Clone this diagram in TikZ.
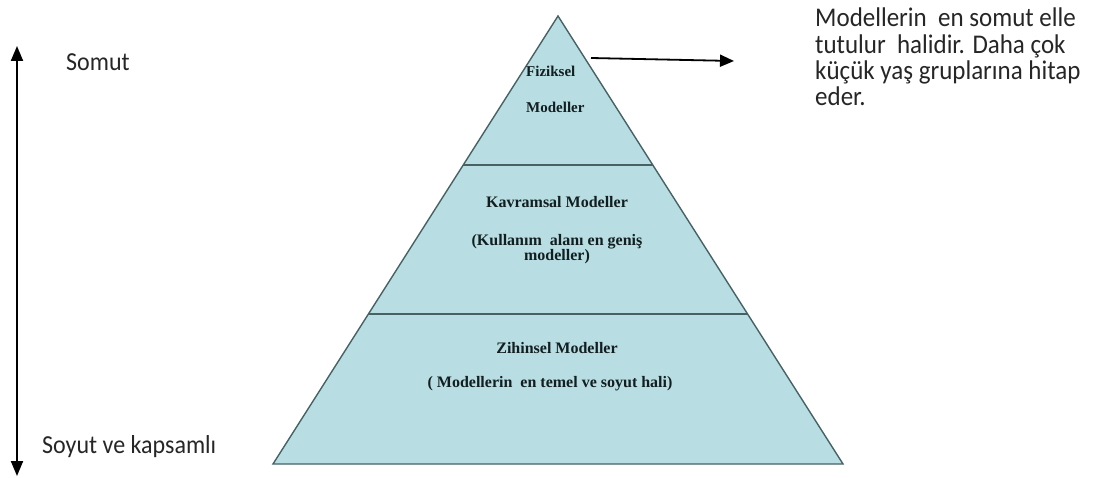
\documentclass[tikz,border=0pt]{standalone}
\usepackage{fontspec}
\usepackage{graphicx}
\setmainfont{Liberation Serif}
\newfontfamily\sidefont{Carlito}
\usetikzlibrary{arrows.meta}
\definecolor{layerfill}{RGB}{184,222,227}
\definecolor{layeredge}{RGB}{72,98,100}
\definecolor{layertext}{RGB}{18,30,32}
\definecolor{sidetext}{RGB}{38,38,38}
\newcommand{\tallside}[1]{\scalebox{1}[1.08]{#1}}
\tikzset{
  layer/.style={fill=layerfill,draw=layeredge,line width=1.4pt,line join=miter},
  divider/.style={draw=layeredge,line width=1.4pt},
  layerlabel/.style={font=\bfseries\fontsize{16}{16}\selectfont,text=layertext,inner sep=0pt,anchor=base},
  toplabel/.style={font=\bfseries\fontsize{15}{15}\selectfont,text=layertext,inner sep=0pt,anchor=base west},
  sidelabel/.style={font=\sidefont\fontsize{24}{24}\selectfont,text=sidetext,inner sep=0pt,anchor=base west},
  notelabel/.style={font=\sidefont\fontsize{25}{25}\selectfont,text=sidetext,inner sep=0pt,anchor=base west},
  pointer/.style={draw=black,line width=1.8pt,-{Triangle[length=14pt,width=12pt]}},
  levelaxis/.style={draw=black,line width=2pt,{Triangle[length=15pt,width=12pt]}-{Triangle[length=15pt,width=12pt]}}
}
\begin{document}
\begin{tikzpicture}[x=1pt,y=-1pt]
\useasboundingbox (0,0) rectangle (1094,478);

% pyramid outline and layer boundaries
\coordinate (apex) at (558,16);
\coordinate (bl) at (273,464);
\coordinate (br) at (843,464);
\coordinate (d1l) at (463,165);
\coordinate (d1r) at (653,165);
\coordinate (d2l) at (368,314);
\coordinate (d2r) at (748,314);

\path[layer] (apex) -- (br) -- (bl) -- cycle;
\draw[divider] (d1l) -- (d1r);
\draw[divider] (d2l) -- (d2r);

% top layer
\node[toplabel] (fiz1) at (526,77) {Fiziksel};
\node[toplabel] (fiz2) at (526,113) {Modeller};

% middle layer
\node[layerlabel] (kav1) at (557,208) {Kavramsal Modeller};
\node[layerlabel] (kav2) at (557,246) {(Kullanım\ \ alanı en geniş};
\node[layerlabel] (kav3) at (557,261) {modeller)};

% bottom layer
\node[layerlabel] (zih1) at (557,353) {Zihinsel Modeller};
\node[layerlabel] (zih2) at (550,387) {( Modellerin\ \ en temel ve soyut hali)};

% note on the top layer
\coordinate (ptrA) at (591,58);
\coordinate (ptrB) at (734,61);
\draw[pointer] (ptrA) -- (ptrB);
\node[notelabel] (n1) at (815,27) {\tallside{Modellerin\ \ en somut elle}};
\node[notelabel] (n2) at (815,54) {\tallside{tutulur\ \ halidir. Daha çok}};
\node[notelabel] (n3) at (815,80) {\tallside{küçük yaş gruplarına hitap}};
\node[notelabel] (n4) at (815,106) {\tallside{eder.}};

% concrete / abstract axis
\coordinate (axTop) at (17,46);
\coordinate (axBot) at (17,476);
\draw[levelaxis] (axTop) -- (axBot);
\node[sidelabel] (somut) at (66,71) {\tallside{Somut}};
\node[sidelabel] (soyut) at (42,453) {\tallside{Soyut ve kapsamlı}};
\end{tikzpicture}
\end{document}
